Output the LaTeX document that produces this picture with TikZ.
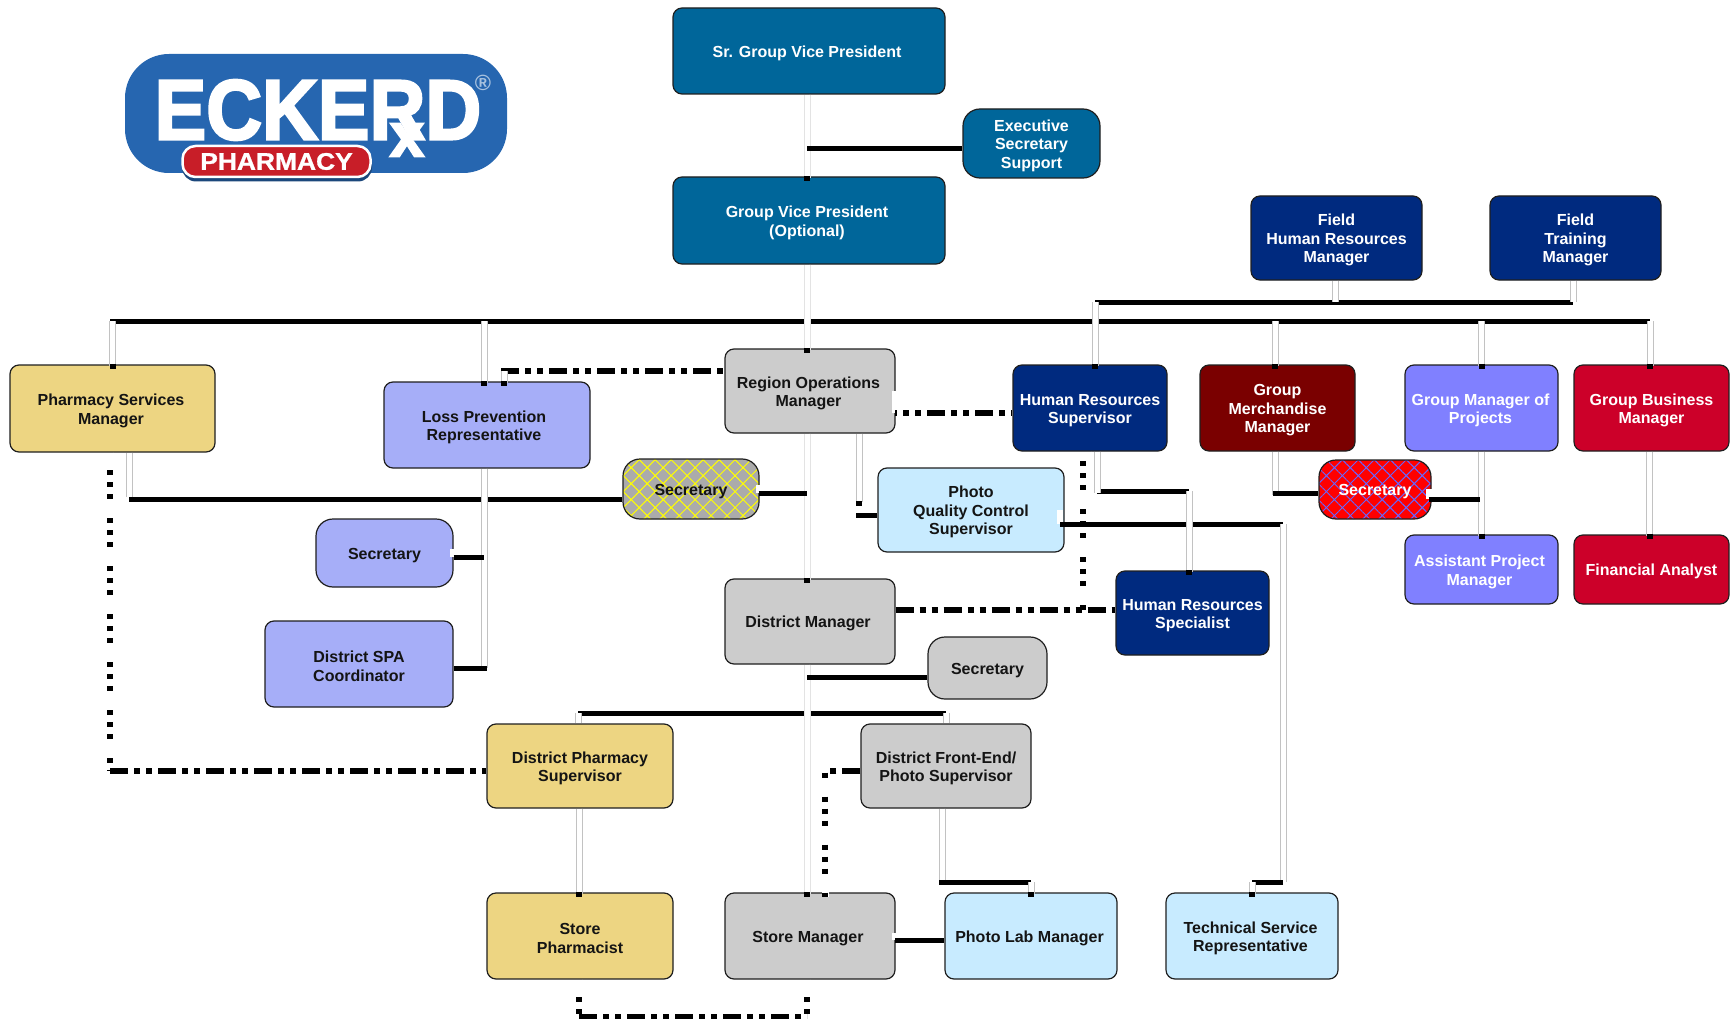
\documentclass[tikz,border=0pt]{standalone}
\usepackage{fontspec}
\setmainfont{Liberation Sans}
\newfontfamily\logofont[FakeBold=3]{Liberation Sans Bold}
\newfontfamily\pillfont[FakeBold=1]{Liberation Sans Bold}
\usetikzlibrary{arrows.meta,patterns.meta}
\definecolor{tealbox}{HTML}{00669A}
\definecolor{navybox}{HTML}{002A7F}
\definecolor{maroonbox}{HTML}{7A0000}
\definecolor{violetbox}{HTML}{8080FF}
\definecolor{lavbox}{HTML}{A6AEF8}
\definecolor{redbox}{HTML}{CC0029}
\definecolor{skybox}{HTML}{C8EBFF}
\definecolor{sandbox}{HTML}{EDD582}
\definecolor{greybox}{HTML}{CCCCCC}
\definecolor{logoblue}{HTML}{2666B0}
\definecolor{logored}{HTML}{C81E28}
\newcommand{\tl}{\rule{0pt}{16pt}}

\begin{document}
\begin{tikzpicture}[x=1pt,y=-1pt]
	\tikzset{box/.style 2 args = {rectangle,rounded corners=9pt,draw=black!88,line width=1.2pt,inner sep=0pt,
		minimum width=#1pt,minimum height=#2pt,align=center,font=\fontsize{16}{18.5}\selectfont\bfseries,
		execute at begin node={\tl}},
	nudge/.style = {execute at end node={\kern #1pt}},
	lightbox/.style = {text=black!92},
	darkbox/.style = {text=white},
	secbox/.style = {rounded corners=17pt},
	hbar/.style = {draw=black,line width=5pt},
	vbar/.style = {draw=white,line width=5pt,preaction={draw=black!24,line width=7pt}},
	vpale/.style = {draw=white,line width=5pt,preaction={draw=black!11,line width=7pt},
		shorten >=-5pt,-{Rectangle[black,length=5pt,width=6pt]}},
	vtip/.style = {vbar,shorten >=-5pt,-{Rectangle[black,length=5pt,width=6pt]}},
	dotbar/.style = {draw=black,line width=5.5pt,dash pattern=on 5pt off 7pt on 5pt off 7pt on 5pt off 19pt,
		preaction={draw=white,line width=7pt,solid}},
	dashbar/.style = {draw=black,line width=5.5pt,dash pattern=on 18pt off 6pt on 6pt off 6pt on 6pt off 6pt},
	nick/.style = {draw=white,line width=6pt}}
	\useasboundingbox (0,0) rectangle (1732,1019);

	% logo
	\node[fill=logoblue,rounded corners=44pt,minimum width=382pt,minimum height=119pt,inner sep=0pt] (logo) at (316,113.5) {};
	\node[text=white,font=\fontsize{85}{85}\logofont,inner sep=0pt] (eckerd) at (318,110) {\scalebox{.91}[1]{ECKERD}};
	\node[text=white,font=\fontsize{62}{62}\logofont,inner sep=0pt] (rx) at (407,140) {x};
	\node[text=logoblue!40,font=\fontsize{22}{22}\bfseries,inner sep=0pt] (reg) at (483,83) {®};
	\node[fill=logoblue!70!black,rounded corners=14pt,minimum width=190pt,minimum height=33pt,inner sep=0pt] (pillback) at (277,165) {};
	\node[fill=logored,draw=white,line width=2.5pt,rounded corners=13pt,minimum width=188pt,minimum height=31pt,inner sep=0pt,
		text=white,font=\fontsize{24}{24}\pillfont] (pill) at (276.5,161.5) {\scalebox{1.1}[1]{PHARMACY}};

	% top
	\node[box={272}{86},fill=tealbox,darkbox,nudge=4,execute at begin node={}] (sr) at (809,51) {Sr. Group Vice President};
	\node[box={137}{69},fill=tealbox,darkbox,secbox] (exec) at (1031.5,143.5) {\tl Executive\\Secretary\\Support};
	\node[box={272}{87},fill=tealbox,darkbox,nudge=4] (gvp) at (809,220.5) {\tl Group Vice President\\(Optional)};
	\node[box={171}{84},fill=navybox,darkbox] (fhr) at (1336.5,238) {\tl Field\\Human Resources\\Manager};
	\node[box={171}{84},fill=navybox,darkbox] (ftr) at (1575.5,238) {\tl Field\\Training\\Manager};

	% region row
	\node[box={205}{87},fill=sandbox,lightbox,nudge=3] (psm) at (112.5,408.5) {\tl Pharmacy Services\\Manager};
	\node[box={206}{86},fill=lavbox,lightbox,nudge=6] (lpr) at (487,425) {\tl Loss Prevention\\Representative};
	\node[box={170}{84},fill=greybox,lightbox,nudge=3] (rom) at (810,391) {\tl Region Operations\\Manager};
	\node[box={154}{86},fill=navybox,darkbox] (hrs) at (1090,408) {\tl Human Resources\\Supervisor};
	\node[box={155}{86},fill=maroonbox,darkbox] (gmm) at (1277.5,408) {\tl Group\\Merchandise\\Manager};
	\node[box={153}{86},fill=violetbox,darkbox,nudge=2] (gmp) at (1481.5,408) {\tl Group Manager of\\Projects};
	\node[box={155}{86},fill=redbox,darkbox] (gbm) at (1651.5,408) {\tl Group Business\\Manager};

	% second tier
	\node[box={136}{60},secbox,lightbox,preaction={fill=black!33},preaction={pattern={Hatch[angle=45,distance=11.3pt,line width=1pt]},pattern color=yellow}] (secy) at (691,489) {Secretary};
	\node[box={112}{59},secbox,darkbox,preaction={fill=red},preaction={pattern={Hatch[angle=45,distance=11.3pt,line width=1pt]},pattern color=violetbox!80!blue}] (secr) at (1375,489.5) {Secretary};
	\node[box={186}{84},fill=skybox,lightbox] (pqc) at (971,510) {\tl Photo\\Quality Control\\Supervisor};
	\node[box={153}{69},fill=violetbox,darkbox,nudge=4] (apm) at (1481.5,569.5) {\tl Assistant Project\\Manager};
	\node[box={155}{69},fill=redbox,darkbox] (fan) at (1651.5,569.5) {Financial Analyst};
	\node[box={137}{68},fill=lavbox,lightbox,secbox] (secl) at (384.5,553) {Secretary};
	\node[box={188}{86},fill=lavbox,lightbox] (spa) at (359,664) {\tl District SPA\\Coordinator};
	\node[box={170}{85},fill=greybox,lightbox,nudge=4] (dm) at (810,621.5) {District Manager};
	\node[box={153}{84},fill=navybox,darkbox] (hrp) at (1192.5,613) {\tl Human Resources\\Specialist};
	\node[box={119}{62},fill=greybox,lightbox,secbox] (secg) at (987.5,668) {Secretary};

	% district and store
	\node[box={186}{84},fill=sandbox,lightbox] (dps) at (580,766) {\tl District Pharmacy\\Supervisor};
	\node[box={170}{84},fill=greybox,lightbox] (dfe) at (946,766) {\tl District Front-End/\\Photo Supervisor};
	\node[box={186}{86},fill=sandbox,lightbox] (sph) at (580,936) {\tl Store\\Pharmacist};
	\node[box={170}{86},fill=greybox,lightbox,nudge=4] (sm) at (810,936) {Store Manager};
	\node[box={172}{86},fill=skybox,lightbox,nudge=3] (pl) at (1031,936) {Photo Lab Manager};
	\node[box={172}{86},fill=skybox,lightbox,nudge=3] (tsr) at (1252,936) {\tl Technical Service\\Representative};

	\coordinate (stem) at (807,149);
	\coordinate (busw) at (110,321);
	\coordinate (buse) at (1650,321);
	\coordinate (fbusw) at (1095,302);
	\coordinate (fbuse) at (1573,302);
	\coordinate (lpbus) at (484,321);
	\coordinate (lpleft) at (501,371);
	\coordinate (lpdrop) at (504,371);
	\coordinate (romhr) at (895,413);
	\coordinate (psmy) at (129,499);
	\coordinate (romsec) at (807,493);
	\coordinate (pqcj) at (859,515);
	\coordinate (pqcup) at (859,501);
	\coordinate (hrj) at (1097,491);
	\coordinate (hrspec) at (1189,491);
	\coordinate (pqcr) at (1060,524);
	\coordinate (tsrj) at (1283,524);
	\coordinate (tsrb) at (1283,882);
	\coordinate (merch) at (1275,493);
	\coordinate (redr) at (1480,499);
	\coordinate (sline) at (484,557);
	\coordinate (spaj) at (484,668);
	\coordinate (hrdot) at (1083,610);
	\coordinate (secgj) at (807,677);
	\coordinate (dmbusw) at (578,713);
	\coordinate (dmbuse) at (946,713);
	\coordinate (psmdot) at (110,771);
	\coordinate (dfedot) at (825,771);
	\coordinate (pljog) at (942,882);
	\coordinate (smr) at (895,940);
	\coordinate (sphb) at (579,1017);
	\coordinate (smb) at (807,1017);

	% dotted reports
	\draw[dotbar,dash phase=30.5pt] ([xshift=-2.5pt]psm.south) -- (psmdot);
	\draw[dashbar] (psmdot) -- (psmdot -| dps.west);
	\draw[dashbar] (lpleft) -- (lpleft -| rom.west);
	\draw[nick] (romhr) -- ++(0,-22);
	\draw[dashbar,dash phase=16pt] (romhr) -- (romhr -| hrs.west);
	\draw[dotbar,dash phase=33.5pt] ([xshift=-2pt]hrs.south) -- ++(0,8) -- ++(-5,0) -- (hrdot);
	\draw[dashbar] (hrdot -| dm.east) -- (hrdot -| hrp.west);
	\draw[dashbar] (dfe.west |- dfedot) -- (dfedot);
	\draw[dotbar,dash phase=22.5pt,shorten >=-5pt] (dfedot) -- (dfedot |- sm.north);
	\draw[dotbar,dash phase=30.5pt] (sphb |- sph.south) -- (sphb);
	\draw[dotbar,dash phase=30.5pt] (smb |- sm.south) -- (smb);
	\draw[dashbar] (sphb) -- (smb);

	% solid reports
	\draw[hbar] (busw) -- (buse);
	\draw[hbar] (fbusw) -- (fbuse);
	\draw[hbar] (dmbusw) -- (dmbuse);
	\draw[hbar] (psmy) -- (psmy -| secy.west);
	\draw[hbar] (hrj) -- (hrspec);
	\draw[nick] (pqcr) -- ++(0,-14);
	\draw[hbar] (pqcr) -- (tsrj);

	\draw[vpale] ([xshift=-2pt]sr.south) -- ([xshift=-2pt]gvp.north);
	\draw[vbar] ([xshift=-1.5pt]fhr.south) -- ([xshift=-1.5pt]fhr.south |- fbuse);
	\draw[vbar] (fbuse |- ftr.south) -- (fbuse);
	\draw[vtip] (busw -| psm.north) -- (psm.north);
	\draw[vtip] (lpbus) -- ([xshift=-3pt]lpr.north);
	\draw[vpale] ([xshift=-2pt]gvp.south) -- ([xshift=-3pt]rom.north);
	\draw[vtip] (fbusw) -- (fbusw |- hrs.north);
	\draw[vtip] (merch |- buse) -- ([xshift=-2.5pt]gmm.north);
	\draw[vtip] (buse -| gmp.north) -- (gmp.north);
	\draw[vtip] (buse) -- ([xshift=-1.5pt]gbm.north);
	\draw[vtip] (lpdrop) -- (lpdrop |- lpr.north);
	\draw[vbar] ([xshift=16.5pt]psm.south) -- ([yshift=2pt]psmy);
	\draw[vbar] ([xshift=-3pt]lpr.south) -- (spaj);
	\draw[vpale] ([xshift=-3pt]rom.south) -- ([xshift=-3pt]dm.north);
	\draw[vtip] (rom.south -| pqcup) -- (pqcup);
	\draw[vbar] (hrs.south -| hrj) -- ([yshift=-2pt]hrj);
	\draw[vtip] (hrspec) -- (hrspec |- hrp.north);
	\draw[vbar] (tsrj) -- (tsrb);
	\draw[vbar] (merch |- gmm.south) -- ([yshift=-2pt]merch);
	\draw[vtip] (gmp.south) -- (apm.north);
	\draw[vtip] ([xshift=-2pt]gbm.south) -- ([xshift=-2pt]fan.north);
	\draw[vpale] ([xshift=-3pt]dm.south) -- ([xshift=-3pt]sm.north);
	\draw[vbar] (dmbusw) -- ([xshift=-2pt]dps.north);
	\draw[vbar] (dmbuse) -- (dfe.north);
	\draw[vtip] ([xshift=-1pt]dps.south) -- ([xshift=-1pt]sph.north);
	\draw[vbar] (dfe.south -| pljog) -- ([yshift=-2pt]pljog);

	% branch lines, over the stems
	\draw[hbar] (stem) -- (stem -| exec.west);
	\draw[nick] ([xshift=-1pt]secy.east |- romsec) -- ++(0,-8);
	\draw[hbar] ([xshift=-1pt]secy.east |- romsec) -- (romsec);
	\draw[hbar] ([xshift=-3pt]pqcj) -- (pqcj -| pqc.west);
	\draw[hbar] (tsrb) -- (tsrb -| tsr.north);
	\draw[vtip] (tsrb -| tsr.north) -- (tsr.north);
	\draw[hbar] ([xshift=-2.5pt]merch) -- (merch -| secr.west);
	\draw[nick] ([xshift=-3pt]secr.east |- redr) -- ++(0,-10);
	\draw[hbar] ([xshift=-3pt]secr.east |- redr) -- (redr);
	\draw[nick] ([xshift=-1pt]sline -| secl.east) -- ++(0,-8);
	\draw[hbar] (sline -| secl.east) -- (sline);
	\draw[hbar] (spaj -| spa.east) -- ([xshift=3pt]spaj);
	\draw[hbar] (secgj) -- (secgj -| secg.west);
	\draw[hbar] ([xshift=-3pt]pljog) -- (pljog -| pl.north);
	\draw[vtip] (pljog -| pl.north) -- (pl.north);
	\draw[nick] (smr) -- ++(0,-7);
	\draw[hbar] (smr) -- (smr -| pl.west);
\end{tikzpicture}
\end{document}
